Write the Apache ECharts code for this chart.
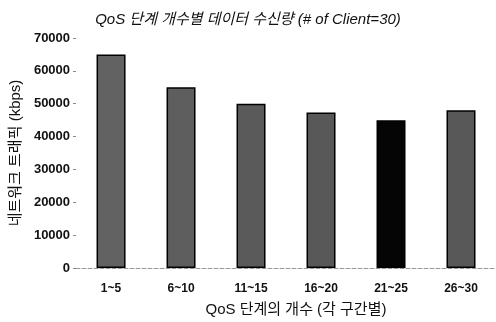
<!DOCTYPE html>
<html>
<head>
<meta charset="utf-8">
<script src="https://cdn.jsdelivr.net/npm/echarts@6/dist/echarts.min.js"></script>
<style>
  html, body { margin: 0; padding: 0; background: #fff; }
  #chart { width: 496px; height: 322px; }
</style>
</head>
<body>
<div id="chart"></div>
<script>
// QoS level ranges and received traffic (kbps)
const categories = ['1~5', '6~10', '11~15', '16~20', '21~25', '26~30'];
const traffic = [65000, 55000, 50000, 47300, 45000, 48000];
const barColors = ['#626262', '#5e5e5e', '#5a5a5a', '#585858', '#050505', '#585858'];

const font = '"Liberation Sans", "Noto Sans CJK KR", sans-serif';
const chart = echarts.init(document.getElementById('chart'));
chart.setOption({
    animation: false,
    title: {
        text: 'QoS 단계 개수별 데이터 수신량 (# of Client=30)',
        left: 'center',
        top: 7,
        textStyle: { fontFamily: font, fontSize: 15, fontWeight: 'normal', fontStyle: 'italic', color: '#111' },
    },
    grid: { left: 72, right: 0, top: 38, bottom: 49 },
    xAxis: {
        type: 'category',
        data: categories,
        name: 'QoS 단계의 개수 (각 구간별)',
        nameLocation: 'middle',
        nameGap: 34,
        nameTextStyle: { fontFamily: font, fontSize: 15, color: '#111', padding: [0, 0, 0, 20] },
        axisLine: { lineStyle: { color: '#999', type: 'dashed', width: 1 } },
        axisTick: { show: false },
        axisLabel: { fontFamily: font, fontSize: 12, fontWeight: 'bold', color: '#111', margin: 15 },
    },
    yAxis: {
        type: 'value',
        min: 0,
        max: 70000,
        interval: 10000,
        name: '네트워크 트래픽 (kbps)',
        nameLocation: 'middle',
        nameGap: 52,
        nameTextStyle: { fontFamily: font, fontSize: 15, color: '#111' },
        axisLine: { show: false },
        axisTick: { show: true, inside: false, length: 3, lineStyle: { color: '#888' } },
        splitLine: { show: false },
        axisLabel: { fontFamily: font, fontSize: 13, fontWeight: 'bold', color: '#111', margin: 6,
            formatter: v => String(v) },
    },
    series: [{
        type: 'bar',
        data: traffic.map((v, i) => ({ value: v, itemStyle: { color: barColors[i] } })),
        barWidth: 29,
        itemStyle: { borderColor: '#000', borderWidth: 1.5 },
    }],
});
</script>
</body>
</html>
